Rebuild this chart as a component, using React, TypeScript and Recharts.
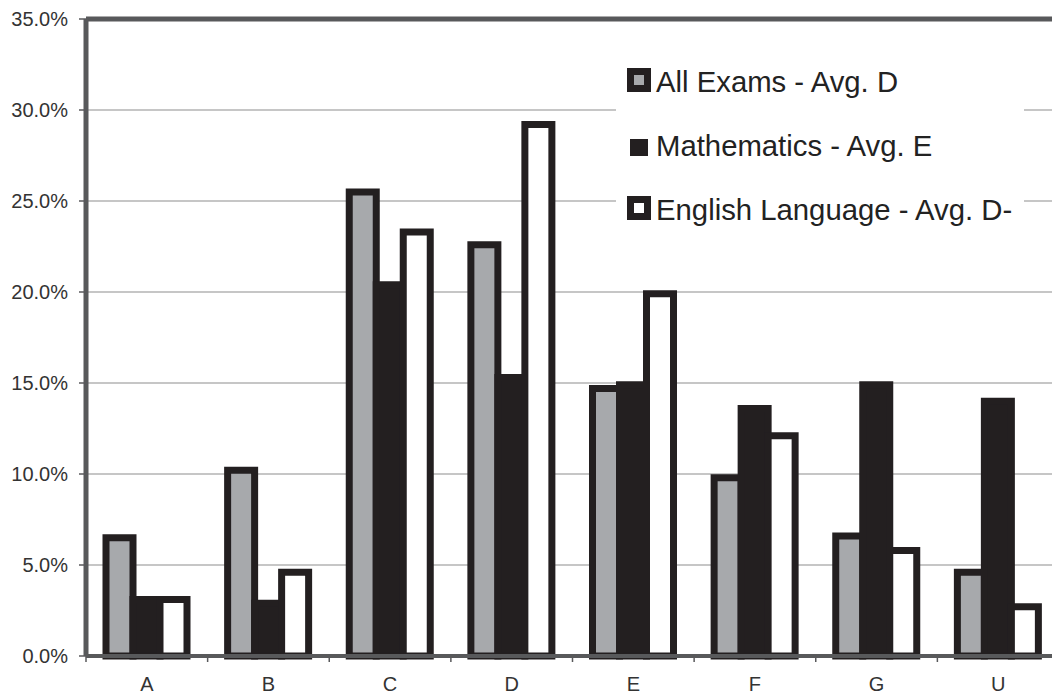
import React from 'react';
import {
  BarChart, Bar, XAxis, YAxis, CartesianGrid, ReferenceLine, Legend
} from 'recharts';

const GRADES = ['A', 'B', 'C', 'D', 'E', 'F', 'G', 'U'];
const ALL_EXAMS = [6.5, 10.2, 25.5, 22.6, 14.7, 9.8, 6.6, 4.6];
const MATHEMATICS = [3.1, 2.9, 20.4, 15.3, 14.9, 13.6, 14.9, 14.0];
const ENGLISH = [3.1, 4.6, 23.3, 29.2, 19.9, 12.1, 5.8, 2.7];
const Y_TICKS = [0, 5, 10, 15, 20, 25, 30, 35];

const SERIES = [
  { key: 'all', name: 'All Exams - Avg. D', fill: '#a7a9ac' },
  { key: 'maths', name: 'Mathematics - Avg. E', fill: '#231f20' },
  { key: 'english', name: 'English Language - Avg. D-', fill: '#ffffff' },
];

const data = GRADES.map((grade, i) => ({
  grade,
  all: ALL_EXAMS[i],
  maths: MATHEMATICS[i],
  english: ENGLISH[i],
}));

const INK = '#231f20';
const AXIS = '#58595b';
const FONT = '"Liberation Sans", Arial, sans-serif';

// x labels centred in the band, tick marks on the band edges
function GradeTick(props: any) {
  const { x, y, payload } = props;
  const half = payload && payload.offset ? payload.offset : 60.8;
  const axisY = y - 21;
  return (
    <g>
      <line x1={x - half} x2={x - half} y1={axisY} y2={axisY + 6} stroke={AXIS} strokeWidth={1.5} />
      <text x={x} y={y} dy="0.71em" textAnchor="middle" fill="#333" fontSize={20} fontFamily={FONT}>
        {payload.value}
      </text>
    </g>
  );
}

function LegendBox() {
  return (
    <div style={{ fontFamily: FONT, fontSize: 29.3, lineHeight: '28px', color: '#222', paddingTop: 28, paddingLeft: 11 }}>
      {SERIES.map((s) => (
        <div key={s.key} style={{ display: 'flex', alignItems: 'flex-start', height: 64 }}>
          <div style={{ width: 24, height: 24, flex: 'none', position: 'relative', marginRight: 5 }}>
            {s.key === 'maths' ? (
              <div style={{ position: 'absolute', left: 3, top: 7, width: 18, height: 17, background: INK }} />
            ) : (
              <div style={{ position: 'absolute', left: 0, top: 0, width: 10, height: 10, border: `7px solid ${INK}`, background: s.fill }} />
            )}
          </div>
          <span style={{ whiteSpace: 'nowrap' }}>{s.name}</span>
        </div>
      ))}
    </div>
  );
}

export default function App() {
  return (
    <div style={{ position: 'absolute', left: 0, top: 0, width: 1052, height: 696, overflow: 'hidden', background: '#fff' }}>
      <BarChart
        width={1059}
        height={696}
        data={data}
        margin={{ top: 19, right: 0, left: 0, bottom: 0 }}
        barCategoryGap={20}
        barGap={0}
      >
        <CartesianGrid vertical={false} stroke="#b3b3b3" strokeWidth={1.5} />
        <XAxis
          dataKey="grade"
          height={40}
          axisLine={{ stroke: AXIS, strokeWidth: 4 }}
          tickLine={false}
          tickSize={6}
          tickMargin={15}
          interval={0}
          tick={<GradeTick />}
        />
        <YAxis
          width={86}
          domain={[0, 35]}
          ticks={Y_TICKS}
          interval={0}
          tickFormatter={(v: number) => `${v.toFixed(1)}%`}
          axisLine={{ stroke: AXIS, strokeWidth: 5 }}
          tickLine={{ stroke: AXIS, strokeWidth: 1.5 }}
          tickSize={7}
          tickMargin={11}
          tick={{ fill: '#333', fontSize: 20, fontFamily: FONT }}
        />
        <ReferenceLine y={35} stroke={AXIS} strokeWidth={5} />
        {SERIES.map((s) => (
          <Bar
            key={s.key}
            dataKey={s.key}
            name={s.name}
            fill={s.fill}
            stroke={INK}
            strokeWidth={7}
            isAnimationActive={false}
          />
        ))}
        <Legend
          layout="horizontal"
          verticalAlign="middle"
          align="center"
          width={408}
          height={215}
          wrapperStyle={{ left: 616, top: 40, background: '#fff' }}
          content={() => <LegendBox />}
        />
      </BarChart>
    </div>
  );
}
